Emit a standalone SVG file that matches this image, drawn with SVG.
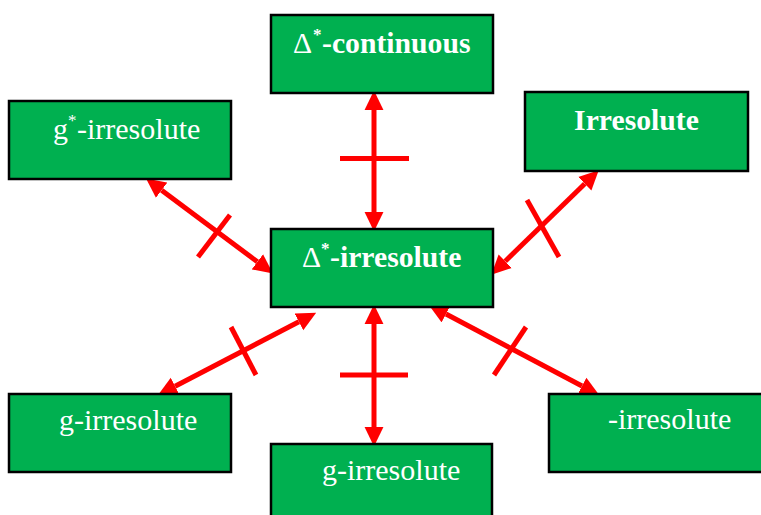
<svg xmlns="http://www.w3.org/2000/svg" width="761" height="515" viewBox="0 0 761 515">
<style>
.box{fill:#00B050;stroke:#000;stroke-width:2.5}
.t{fill:#fff;font-family:"Liberation Serif","Times New Roman",serif;font-size:30px}
.b{font-weight:bold;font-size:29.7px}
.d{font-weight:normal}
.sup{font-size:17px}
.con{stroke:#FF0000;stroke-width:5;fill:none}
</style>
<defs>
<marker id="ah" markerUnits="userSpaceOnUse" markerWidth="20" markerHeight="20" viewBox="0 -9 18 18" refX="0" refY="0" orient="auto-start-reverse">
<path d="M0,-8.5 L17.5,0 L0,8.5 z" fill="#FF0000"/>
</marker>
</defs>
<rect width="761" height="515" fill="#fff"/>
<g id="connectors">
<line class="con" x1="374" y1="110" x2="374" y2="212" marker-start="url(#ah)" marker-end="url(#ah)"/>
<line class="con" x1="340" y1="158.5" x2="409" y2="158.5"/>
<line class="con" x1="374" y1="324" x2="374" y2="427" marker-start="url(#ah)" marker-end="url(#ah)"/>
<line class="con" x1="340" y1="375" x2="408" y2="375"/>
<line class="con" x1="161.6" y1="190.2" x2="257.4" y2="261.8" marker-start="url(#ah)" marker-end="url(#ah)"/>
<line class="con" x1="230" y1="215" x2="198" y2="257"/>
<line class="con" x1="584.8" y1="183.8" x2="505.2" y2="261.2" marker-start="url(#ah)" marker-end="url(#ah)"/>
<line class="con" x1="527" y1="200" x2="559" y2="257"/>
<line class="con" x1="298.9" y1="321.8" x2="175.1" y2="386.2" marker-start="url(#ah)" marker-end="url(#ah)"/>
<line class="con" x1="231" y1="327" x2="256" y2="375"/>
<line class="con" x1="446" y1="314" x2="582" y2="386" marker-start="url(#ah)" marker-end="url(#ah)"/>
<line class="con" x1="526" y1="327" x2="494" y2="375"/>
</g>
<g id="delta-continuous">
<rect class="box" x="271" y="15" width="222" height="78"/>
<text class="t b" y="53"><tspan class="d" x="293">Δ</tspan><tspan class="sup" x="313" y="40">*</tspan><tspan x="322" y="53">-continuous</tspan></text>
</g>
<g id="g-star-irresolute">
<rect class="box" x="9" y="101" width="222" height="78"/>
<text class="t" y="139"><tspan x="53">g</tspan><tspan class="sup" x="68" y="126">*</tspan><tspan x="77" y="139">-irresolute</tspan></text>
</g>
<g id="irresolute">
<rect class="box" x="525" y="92" width="223" height="79"/>
<text class="t b" x="636.5" y="130" text-anchor="middle">Irresolute</text>
</g>
<g id="delta-irresolute">
<rect class="box" x="271" y="229" width="222" height="78"/>
<text class="t b" y="267"><tspan class="d" x="302">Δ</tspan><tspan class="sup" x="321" y="254">*</tspan><tspan x="330" y="267">-irresolute</tspan></text>
</g>
<g id="g-irresolute-left">
<rect class="box" x="9" y="394" width="222" height="78"/>
<text class="t" x="59" y="430">g-irresolute</text>
</g>
<g id="g-irresolute-bottom">
<rect class="box" x="271" y="444" width="221" height="80"/>
<text class="t" x="322" y="480">g-irresolute</text>
</g>
<g id="irresolute-right">
<rect class="box" x="549" y="394" width="222" height="78"/>
<text class="t" x="608" y="429">-irresolute</text>
</g>
</svg>
